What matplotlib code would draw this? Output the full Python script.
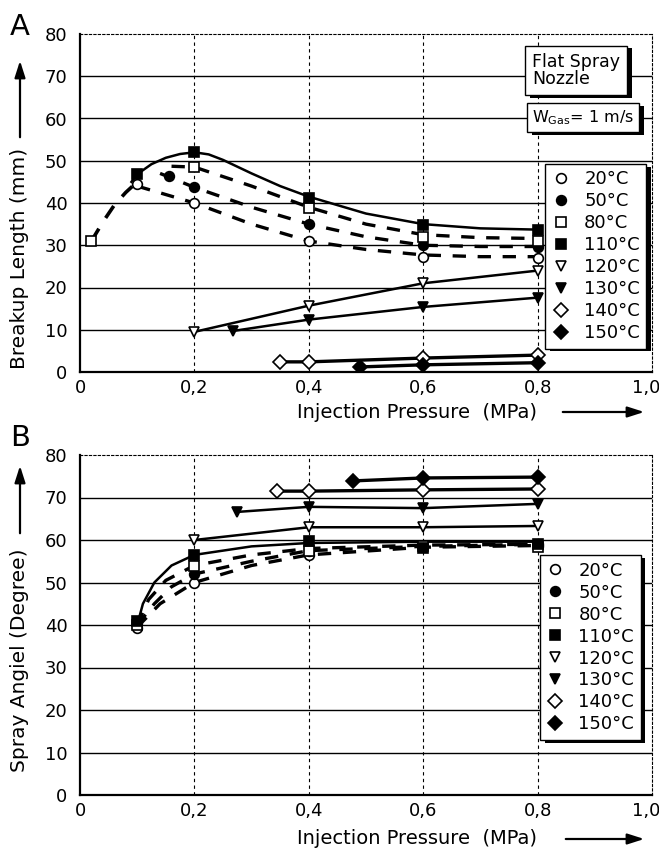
import matplotlib
matplotlib.use("Agg")
import matplotlib.pyplot as plt
import matplotlib.patheffects as pe
import matplotlib.transforms as mtransforms

plt.rcParams['font.family'] = ['DejaVu Sans']

temps = ['20°C', '50°C', '80°C', '110°C', '120°C', '130°C', '140°C', '150°C']
markers = ['o', 'o', 's', 's', 'v', 'v', 'D', 'D']
filled = [False, True, False, True, False, True, False, True]

# ---- panel A: breakup length (mm)
a_x = [
    [0.1, 0.2, 0.4, 0.6, 0.8],
    [0.155, 0.2, 0.4, 0.6, 0.8],
    [0.02, 0.2, 0.4, 0.6, 0.8],
    [0.1, 0.2, 0.4, 0.6, 0.8],
    [0.2, 0.4, 0.6, 0.8],
    [0.267, 0.4, 0.6, 0.8],
    [0.35, 0.4, 0.6, 0.8],
    [0.49, 0.6, 0.8],
]
a_y = [
    [44.4, 40.0, 31.0, 27.3, 27.0],
    [46.5, 43.7, 35.0, 30.0, 29.5],
    [31.0, 48.5, 38.7, 32.0, 31.0],
    [46.8, 52.0, 41.3, 34.7, 33.7],
    [9.5, 15.7, 21.0, 24.0],
    [9.7, 12.4, 15.4, 17.6],
    [2.4, 2.4, 3.3, 4.0],
    [1.2, 1.7, 2.2],
]
# fitted curves
a_fit110_x = [0.09, 0.1, 0.125, 0.15, 0.175, 0.2, 0.225, 0.25, 0.3, 0.35, 0.4, 0.5, 0.6, 0.7, 0.8]
a_fit110_y = [45.0, 46.8, 49.2, 50.7, 51.6, 52.0, 51.5, 50.2, 47.0, 44.0, 41.5, 37.5, 35.0, 34.0, 33.7]
a_start_x = [0.02, 0.04, 0.06, 0.08, 0.1]
a_start_y = [31.0, 35.5, 39.5, 42.5, 45.0]
a_fit20_x = [0.1, 0.2, 0.3, 0.4, 0.5, 0.6, 0.7, 0.8]
a_fit20_y = [44.0, 40.0, 35.0, 31.0, 29.0, 27.7, 27.3, 27.3]
a_fit50_x = [0.14, 0.2, 0.3, 0.4, 0.5, 0.6, 0.7, 0.8]
a_fit50_y = [47.0, 43.7, 39.0, 35.0, 32.0, 30.0, 29.7, 29.7]
a_fit80_x = [0.16, 0.2, 0.3, 0.4, 0.5, 0.6, 0.7, 0.8]
a_fit80_y = [48.7, 48.5, 44.0, 39.0, 35.0, 32.5, 31.8, 31.6]

# ---- panel B: spray angle (degree)
b_x = [
    [0.1, 0.2, 0.4, 0.6, 0.8],
    [0.1, 0.2, 0.4, 0.6, 0.8],
    [0.1, 0.2, 0.4, 0.6, 0.8],
    [0.1, 0.2, 0.4, 0.6, 0.8],
    [0.2, 0.4, 0.6, 0.8],
    [0.274, 0.4, 0.6, 0.8],
    [0.345, 0.4, 0.6, 0.8],
    [0.477, 0.6, 0.8],
]
b_y = [
    [39.3, 50.0, 56.5, 58.5, 58.5],
    [40.5, 52.0, 57.5, 58.5, 59.0],
    [40.0, 54.0, 57.4, 58.5, 58.4],
    [41.0, 56.5, 59.8, 58.1, 59.0],
    [60.0, 63.0, 63.0, 63.3],
    [66.6, 67.8, 67.5, 68.5],
    [71.5, 71.5, 71.8, 72.0],
    [73.9, 74.6, 74.8],
]
b_fit110_x = [0.1, 0.11, 0.13, 0.16, 0.2, 0.3, 0.4, 0.6, 0.8]
b_fit110_y = [40.0, 45.0, 50.0, 54.0, 56.5, 58.5, 59.3, 59.6, 59.6]
b_fit80_x = [0.1, 0.12, 0.15, 0.2, 0.3, 0.4, 0.6, 0.8]
b_fit80_y = [40.0, 46.0, 50.5, 54.0, 56.5, 58.0, 58.8, 59.0]
b_fit50_x = [0.1, 0.13, 0.16, 0.2, 0.3, 0.4, 0.6, 0.8]
b_fit50_y = [40.0, 45.0, 49.0, 52.0, 55.0, 57.5, 58.5, 59.0]
b_fit20_x = [0.1, 0.14, 0.2, 0.3, 0.4, 0.6, 0.8]
b_fit20_y = [39.5, 45.0, 50.0, 54.0, 56.5, 58.3, 58.7]

xticks = [0, 0.2, 0.4, 0.6, 0.8, 1.0]
xticklabels = ['0', '0,2', '0,4', '0,6', '0,8', '1,0']
yticks = [0, 10, 20, 30, 40, 50, 60, 70, 80]

fig = plt.figure(figsize=(6.59, 8.52), dpi=100)
axA = fig.add_axes([80/659, 1-372/852, 572/659, 338/852])
axB = fig.add_axes([80/659, 1-795/852, 572/659, 340/852])

dash = (0, (4, 3.5))
shadow = [pe.SimplePatchShadow(offset=(3.5, -2), shadow_rgbFace='black', alpha=1.0), pe.Normal()]


def style_axes(ax):
    ax.set_xlim(0, 1.0)
    ax.set_ylim(0, 80)
    ax.set_xticks(xticks)
    ax.set_xticklabels(xticklabels, fontsize=13)
    ax.set_yticks(yticks)
    ax.set_yticklabels([str(t) for t in yticks], fontsize=13)
    ax.tick_params(axis='x', length=0, pad=5)
    ax.tick_params(axis='y', length=0, pad=9)
    # pull the last x label in a little so it stays on the page
    lab = ax.get_xticklabels()[-1]
    lab.set_transform(lab.get_transform() + mtransforms.ScaledTranslation(-6/100, 0, fig.dpi_scale_trans))
    for t in yticks[1:-1]:
        ax.axhline(t, color='black', lw=1.0, zorder=0)
    for t in xticks[1:-1]:
        ax.axvline(t, color='black', lw=0.8, ls=(0, (3, 3)), zorder=0)
    ax.spines['left'].set_linewidth(1.6)
    ax.spines['bottom'].set_linewidth(1.6)
    ax.spines['top'].set_linewidth(0.8)
    ax.spines['top'].set_linestyle((0, (2, 2)))
    ax.spines['right'].set_linewidth(0.8)
    ax.spines['right'].set_linestyle((0, (2, 2)))


def draw_points(ax, xs, ys):
    handles = []
    for i in range(len(temps)):
        fc = 'black' if filled[i] else 'white'
        h, = ax.plot(xs[i], ys[i], ls='none', marker=markers[i], ms=7,
                     mfc=fc, mec='black', mew=1.2, label=temps[i], zorder=4)
        handles.append(h)
    return handles


def add_legend(ax, handles, anchor):
    leg = ax.legend(handles=handles, loc='upper right', bbox_to_anchor=anchor,
                    fontsize=13, frameon=True, fancybox=False,
                    handlelength=1.0, handletextpad=0.8, labelspacing=0.22,
                    borderpad=0.35, borderaxespad=0)
    frame = leg.get_frame()
    frame.set_edgecolor('black')
    frame.set_linewidth(1.0)
    frame.set_alpha(1.0)
    frame.set_path_effects(shadow)
    return leg


# panel A
style_axes(axA)
axA.plot(a_fit110_x, a_fit110_y, color='black', lw=1.8, zorder=3)
axA.plot(a_start_x, a_start_y, color='black', lw=2.6, ls=dash, zorder=3)
axA.plot(a_fit20_x, a_fit20_y, color='black', lw=2.4, ls=dash, zorder=3)
axA.plot(a_fit50_x, a_fit50_y, color='black', lw=2.4, ls=dash, zorder=3)
axA.plot(a_fit80_x, a_fit80_y, color='black', lw=2.4, ls=dash, zorder=3)
for i in range(4, 8):
    axA.plot(a_x[i], a_y[i], color='black', lw=1.8 if i < 6 else 2.4, zorder=3)
hA = draw_points(axA, a_x, a_y)
add_legend(axA, hA, (0.99, 0.615))

t1 = axA.text(0.79, 0.945, 'Flat Spray\nNozzle', transform=axA.transAxes, fontsize=12.5,
              ha='left', va='top', linespacing=0.95,
              bbox=dict(boxstyle='square,pad=0.4', fc='white', ec='black', lw=1.0))
t2 = axA.text(0.79, 0.725, r'W$_{\rm Gas}$= 1 m/s', transform=axA.transAxes, fontsize=11.5,
              ha='left', va='bottom',
              bbox=dict(boxstyle='square,pad=0.3', fc='white', ec='black', lw=1.0))
for t in (t1, t2):
    t.get_bbox_patch().set_path_effects(shadow)

# panel B
style_axes(axB)
axB.plot(b_fit110_x, b_fit110_y, color='black', lw=1.8, zorder=3)
axB.plot(b_fit80_x, b_fit80_y, color='black', lw=2.4, ls=dash, zorder=3)
axB.plot(b_fit50_x, b_fit50_y, color='black', lw=2.4, ls=dash, zorder=3)
axB.plot(b_fit20_x, b_fit20_y, color='black', lw=2.4, ls=dash, zorder=3)
for i in range(4, 8):
    axB.plot(b_x[i], b_y[i], color='black', lw=1.8 if i < 6 else 2.4, zorder=3)
hB = draw_points(axB, b_x, b_y)
add_legend(axB, hB, (0.98, 0.705))

# panel letters, axis labels and arrows
fig.text(10/659, 1-27/852, 'A', fontsize=21, ha='left', va='center')
fig.text(10/659, 1-438/852, 'B', fontsize=21, ha='left', va='center')

fig.text(20/659, 1-258/852, 'Breakup Length (mm)', rotation=90, fontsize=14.5,
         ha='center', va='center')
fig.text(20/659, 1-660/852, 'Spray Angiel (Degree)', rotation=90, fontsize=14.5,
         ha='center', va='center')
fig.text(417/659, 1-412/852, 'Injection Pressure  (MPa)', fontsize=14,
         ha='center', va='center')
fig.text(417/659, 1-839/852, 'Injection Pressure  (MPa)', fontsize=14,
         ha='center', va='center')

arrowprops = dict(arrowstyle='-|>,head_length=1.0,head_width=0.32', color='black', lw=1.6)
fig.add_artist(plt.Annotation('', xy=(20/659, 1-58/852), xytext=(20/659, 1-140/852),
                              xycoords='figure fraction', arrowprops=arrowprops))
fig.add_artist(plt.Annotation('', xy=(20/659, 1-463/852), xytext=(20/659, 1-536/852),
                              xycoords='figure fraction', arrowprops=arrowprops))
fig.add_artist(plt.Annotation('', xy=(647/659, 1-412/852), xytext=(560/659, 1-412/852),
                              xycoords='figure fraction', arrowprops=arrowprops))
fig.add_artist(plt.Annotation('', xy=(647/659, 1-839/852), xytext=(563/659, 1-839/852),
                              xycoords='figure fraction', arrowprops=arrowprops))

fig.savefig('out.png', dpi=100)
